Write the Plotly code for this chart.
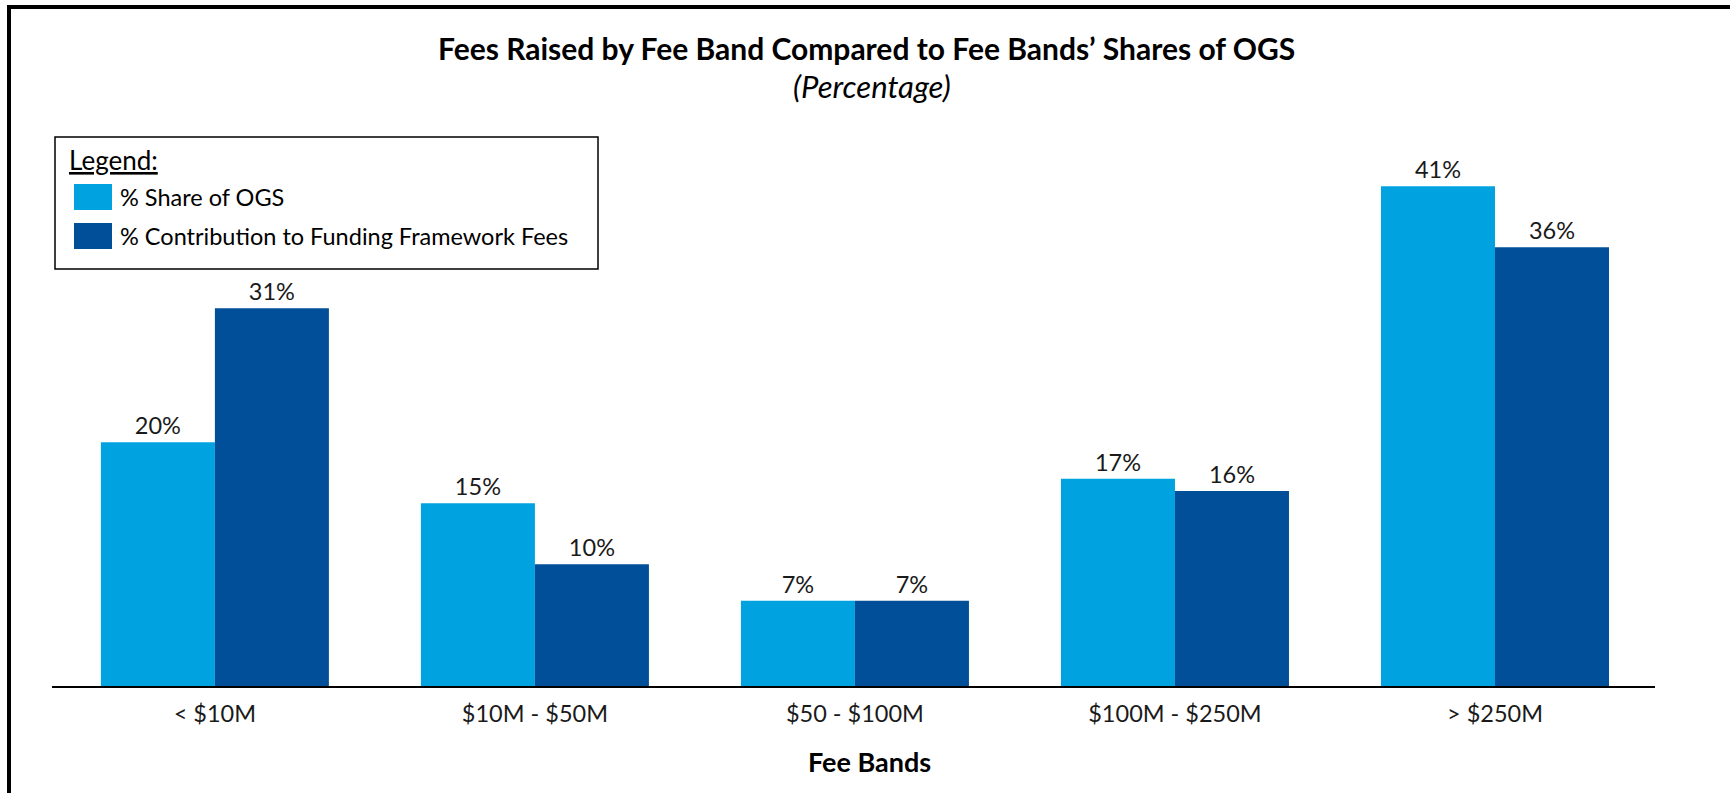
import plotly.graph_objects as go

# ---- data ----
categories = ["< $10M", "$10M - $50M", "$50 - $100M", "$100M - $250M", "> $250M"]
share_of_ogs = [20, 15, 7, 17, 41]
contribution_fees = [31, 10, 7, 16, 36]
series_names = ["% Share of OGS", "% Contribution to Funding Framework Fees"]
series_colors = ["#00A3E0", "#004F98"]

title_text = "Fees Raised by Fee Band Compared to Fee Bands\u2019 Shares of OGS"
subtitle_text = "(Percentage)"
x_title = "Fee Bands"

# ---- layout geometry (pixels) ----
W, H = 1730, 793
L, R, T, B = 52, 75, 101, 107
PW, PH = W - L - R, H - T - B
FONT = "Lato"


def px(x):
    return (x - L) / PW


def py(y):
    return (H - B - y) / PH


fig = go.Figure()
for name, vals, col in zip(series_names, [share_of_ogs, contribution_fees], series_colors):
    fig.add_trace(go.Bar(
        x=categories, y=vals, name=name,
        marker=dict(color=col, line=dict(width=0)),
        text=[f"{v}%" for v in vals], textposition="outside",
        textfont=dict(family=FONT, size=23.5, color="#1a1a1a"),
        cliponaxis=False, showlegend=False,
    ))

shapes = [
    # outer frame
    dict(type="rect", xref="paper", yref="paper", x0=px(9), y0=py(7), x1=px(1800), y1=py(900),
         line=dict(color="black", width=4), fillcolor="rgba(0,0,0,0)", layer="above"),
    # legend box
    dict(type="rect", xref="paper", yref="paper", x0=px(55), y0=py(137), x1=px(598), y1=py(269),
         line=dict(color="black", width=1.5), fillcolor="white", layer="above"),
]
annotations = [
    dict(text="<b>" + title_text + "</b>", xref="paper", yref="paper", x=px(867), y=py(48),
         showarrow=False, xanchor="center", yanchor="middle",
         font=dict(family=FONT, size=30, color="black")),
    dict(text="<i>" + subtitle_text + "</i>", xref="paper", yref="paper", x=px(872), y=py(86),
         showarrow=False, xanchor="center", yanchor="middle",
         font=dict(family=FONT, size=31, color="black")),
    dict(text="<b>" + x_title + "</b>", xref="paper", yref="paper", x=px(869), y=py(761),
         showarrow=False, xanchor="center", yanchor="middle",
         font=dict(family=FONT, size=27, color="black")),
    dict(text="Legend:", xref="paper", yref="paper", x=px(67), y=py(160),
         showarrow=False, xanchor="left", yanchor="middle",
         font=dict(family=FONT, size=26, color="black", lineposition="under")),
]
item_y = [(184, 210), (223, 249)]
for (y0, y1), name, col in zip(item_y, series_names, series_colors):
    shapes.append(dict(type="rect", xref="paper", yref="paper", x0=px(74), x1=px(112),
                       y0=py(y0), y1=py(y1), fillcolor=col, line=dict(width=0), layer="above"))
    annotations.append(dict(text=name, xref="paper", yref="paper", x=px(118), y=py((y0 + y1) / 2),
                            showarrow=False, xanchor="left", yanchor="middle",
                            font=dict(family=FONT, size=23.5, color="black")))

fig.update_layout(
    width=W, height=H,
    margin=dict(l=L, r=R, t=T, b=B, pad=0),
    paper_bgcolor="white", plot_bgcolor="white",
    barmode="group", bargap=0.2875, bargroupgap=0,
    shapes=shapes, annotations=annotations,
    xaxis=dict(range=[-0.509, 4.5], showline=True, linecolor="black", linewidth=2,
               ticks="", showgrid=False, zeroline=False, ticklabelstandoff=6,
               tickfont=dict(family=FONT, size=23.5, color="#1a1a1a"), fixedrange=True),
    yaxis=dict(range=[0, 48], visible=False, showgrid=False, zeroline=False, fixedrange=True),
    font=dict(family=FONT),
)

fig.write_html("out.html", config={"displayModeBar": False})
